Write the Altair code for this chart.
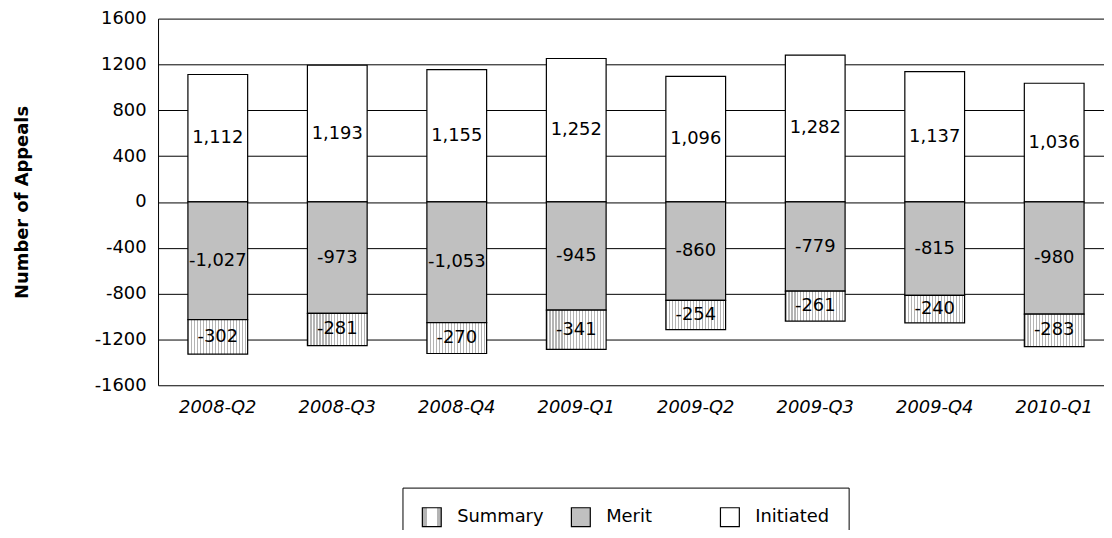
import altair as alt
import pandas as pd

quarters = ["2008-Q2", "2008-Q3", "2008-Q4", "2009-Q1", "2009-Q2", "2009-Q3", "2009-Q4", "2010-Q1"]
initiated = [1112, 1193, 1155, 1252, 1096, 1282, 1137, 1036]
merit = [-1027, -973, -1053, -945, -860, -779, -815, -980]
summary = [-302, -281, -270, -341, -254, -261, -240, -283]
series = ["Summary", "Merit", "Initiated"]
stack_order = {"Initiated": 0, "Merit": 1, "Summary": 2}
y_ticks = [-1600, -1200, -800, -400, 0, 400, 800, 1200, 1600]

rows = []
for i, q in enumerate(quarters):
    for name, vals in [("Initiated", initiated), ("Merit", merit), ("Summary", summary)]:
        v = vals[i]
        rows.append({"quarter": q, "type": name, "value": v,
                     "ord": stack_order[name], "label": f"{v:,}"})
df = pd.DataFrame(rows)

# vertical stripe fill for "Summary" (linear gradient with hard stops)
n_stripes = 20
stop_parts = []
for k in range(n_stripes):
    a = k / n_stripes
    b = (k + 0.4) / n_stripes
    c = (k + 1) / n_stripes
    stop_parts.append("{offset:%.4f,color:'#b4b4b4'}" % a)
    stop_parts.append("{offset:%.4f,color:'#b4b4b4'}" % b)
    stop_parts.append("{offset:%.4f,color:'#ffffff'}" % b)
    stop_parts.append("{offset:%.4f,color:'#ffffff'}" % c)
stripe_expr = "{gradient:'linear',x1:0,y1:0,x2:1,y2:0,stops:[" + ",".join(stop_parts) + "]}"

FONT = "DejaVu Sans"

x_enc = alt.X(
    "quarter:N", sort=quarters,
    scale=alt.Scale(range=[0, 962], paddingInner=0.5, paddingOuter=0.25),
    axis=alt.Axis(title=None, labelAngle=0, domain=False, ticks=False, grid=False,
                  labelPadding=13, labelFont=FONT, labelFontStyle="italic",
                  labelFontSize=18, labelColor="black"),
)

y_scale = alt.Scale(domain=[-1600, 1600], nice=False, zero=False)
y_axis = alt.Axis(
    values=y_ticks, grid=True, gridColor="black", gridOpacity=1, gridWidth=1,
    domain=True, domainColor="black", domainWidth=1, ticks=False,
    labelExpr="datum.value + ''",
    labelPadding=12, labelFont=FONT, labelFontSize=18, labelColor="black",
    title="Number of Appeals", titleFont=FONT, titleFontSize=18, titleFontWeight="bold",
    titleColor="black", titleX=-136, titleY=184.5, titleAngle=270,
    titleAlign="center", titleBaseline="middle",
)

base = alt.Chart(df).transform_stack(
    stack="value", groupby=["quarter"], as_=["y0", "y1"],
    sort=[alt.SortField(field="ord", order="ascending")],
).transform_calculate(ymid="(datum.y0 + datum.y1) / 2")

bars = base.mark_bar(stroke="black", strokeWidth=1.2).encode(
    x=x_enc,
    y=alt.Y("y0:Q", scale=y_scale, axis=y_axis),
    y2="y1:Q",
    fill=alt.Fill(
        "type:N",
        scale=alt.Scale(domain=series, range=[{"expr": stripe_expr}, "#c0c0c0", "#ffffff"]),
        legend=alt.Legend(
            title=None, orient="none", legendX=246, legendY=472,
            direction="horizontal", columns=3, gridAlign="all",
            symbolType="square", symbolSize=361, symbolStrokeColor="black",
            symbolStrokeWidth=1.2, labelFont=FONT, labelFontSize=18,
            labelColor="black", labelOffset=15, columnPadding=25, padding=19,
            strokeColor="black", fillColor="white",
        ),
    ),
)

labels = base.mark_text(font=FONT, fontSize=18, color="black").encode(
    x=x_enc,
    y=alt.Y("ymid:Q", scale=y_scale, axis=y_axis),
    text="label:N",
)

chart = (
    alt.layer(bars, labels)
    .properties(
        width=952, height=369,
        padding={"left": 151, "top": 9, "right": 0, "bottom": 144},
        autosize=alt.AutoSizeParams(type="none"),
        background="white",
    )
    .configure_view(strokeWidth=0)
)

chart.save("out.html", embed_options={"renderer": "svg", "actions": False})
